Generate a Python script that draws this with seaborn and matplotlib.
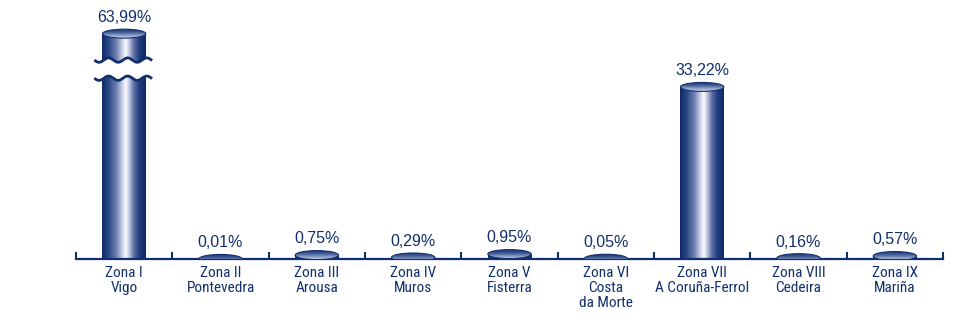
import numpy as np
import pandas as pd
import matplotlib
matplotlib.use("Agg")
import matplotlib.pyplot as plt
import seaborn as sns
from matplotlib.colors import LinearSegmentedColormap
from matplotlib.patches import Ellipse

# ---------------- data ----------------
zones = ["Zona I\nVigo", "Zona II\nPontevedra", "Zona III\nArousa", "Zona IV\nMuros",
         "Zona V\nFisterra", "Zona VI\nCosta\nda Morte", "Zona VII\nA Coruña-Ferrol",
         "Zona VIII\nCedeira", "Zona IX\nMariña"]
values = [63.99, 0.01, 0.75, 0.29, 0.95, 0.05, 33.22, 0.16, 0.57]
value_labels = ["63,99%", "0,01%", "0,75%", "0,29%", "0,95%", "0,05%", "33,22%", "0,16%", "0,57%"]
BREAK_CAP = 43.5          # displayed height of the broken (truncated) bar
BREAK_BAND = (34.9, 38.4)  # value range hidden by the axis-break mark

NAVY = "#112f6c"

sns.set_theme(style="white")
plt.rcParams["font.family"] = ["Liberation Sans", "DejaVu Sans"]

W, H = 955, 331
fig = plt.figure(figsize=(W / 100, H / 100), dpi=100)
fig.patch.set_facecolor("white")
ax = fig.add_axes([76 / W, 1 - 259 / H, (943 - 76) / W, 259 / H])

df = pd.DataFrame({"zone": zones, "shown": np.minimum(values, BREAK_CAP)})
sns.barplot(data=df, x="zone", y="shown", color=NAVY, saturation=1, width=0.45, ax=ax, zorder=2)

YMAX = 50.0
ax.set_ylim(0, YMAX)
ax.set_xlim(-0.5, len(zones) - 0.5)
px_per_unit = 259 / YMAX
eh = 9 / px_per_unit

body_cmap = LinearSegmentedColormap.from_list("body", [
    (0.00, "#0e2a66"), (0.15, "#2a4886"), (0.33, "#7080b2"), (0.46, "#c8d0e8"),
    (0.54, "#ffffff"), (0.62, "#c0c8e0"), (0.72, "#6272a8"), (0.85, "#203c7c"),
    (1.00, "#0e2a66")])
cap_cmap = LinearSegmentedColormap.from_list("cap", [
    (0.0, "#1a3574"), (0.35, "#3e5a96"), (0.75, "#98a6cc"), (1.0, "#c8d0e6")])
hgrad = np.linspace(0, 1, 256)[None, :]
vgrad = np.linspace(0, 1, 64)[:, None]

bars = list(ax.patches)
for i, patch in enumerate(bars):
    x0, w, h = patch.get_x(), patch.get_width(), patch.get_height()
    patch.set_visible(False)
    ax.imshow(hgrad, cmap=body_cmap, extent=[x0, x0 + w, 0, h], aspect="auto",
              interpolation="bicubic", zorder=2)
    e = Ellipse((x0 + w / 2, h), w, eh, facecolor="none", edgecolor=NAVY, lw=0.8, zorder=4)
    ax.add_patch(e)
    im = ax.imshow(vgrad, cmap=cap_cmap, extent=[x0, x0 + w, h - eh / 2, h + eh / 2],
                   aspect="auto", interpolation="bicubic", zorder=3)
    im.set_clip_path(e)
    ax.annotate(value_labels[i], xy=(x0 + w / 2, h + eh / 2), xytext=(0, 3),
                textcoords="offset points", ha="center", va="bottom",
                fontsize=11.5, color=NAVY, zorder=6)
    if values[i] > BREAK_CAP:
        xs = np.linspace(x0 - 0.085, x0 + w + 0.065, 300)
        period = 0.198
        amp = 2.2 / px_per_unit
        wave = amp * np.sin(2 * np.pi * (xs - xs[0]) / period + np.pi)
        lo, hi = BREAK_BAND
        ax.fill_between(xs, lo + wave, hi + wave, color="white", zorder=5, lw=0)
        ax.plot(xs, hi + wave, color=NAVY, lw=2, zorder=6, solid_capstyle="butt")
        ax.plot(xs, lo + wave, color=NAVY, lw=2, zorder=6, solid_capstyle="butt")

ax.set_xlabel("")
ax.set_ylabel("")
ax.set_yticks([])
ax.set_xticks(range(len(zones)))
ax.set_xticklabels(zones, fontfamily=["Roboto Condensed", "DejaVu Sans"],
                   fontsize=11, color=NAVY, linespacing=1.1)
ax.tick_params(axis="x", which="major", length=0, pad=5)
ax.set_xticks(np.arange(-0.5, len(zones), 1), minor=True)
ax.tick_params(axis="x", which="minor", bottom=True, direction="in", length=5, width=1.5, color=NAVY)
for s in ["top", "right", "left"]:
    ax.spines[s].set_visible(False)
ax.spines["bottom"].set_color(NAVY)
ax.spines["bottom"].set_linewidth(1.6)
ax.set_facecolor("white")

fig.savefig("out.png", dpi=100, facecolor="white")
